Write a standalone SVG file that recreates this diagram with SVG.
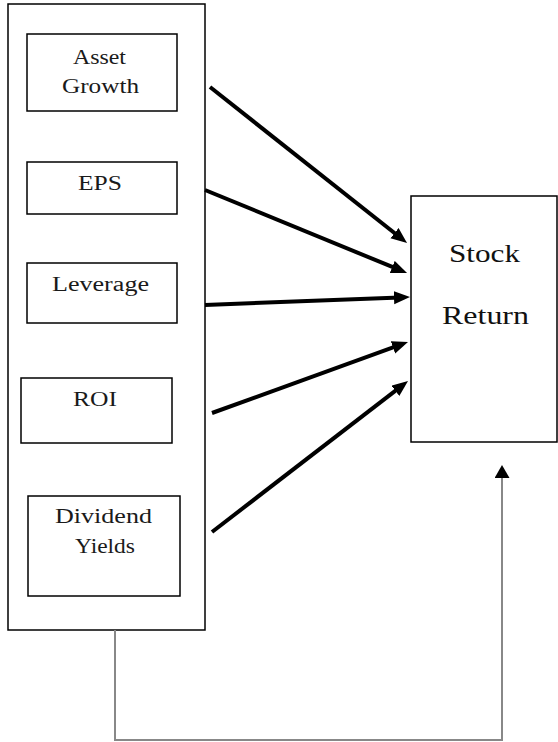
<svg xmlns="http://www.w3.org/2000/svg" width="558" height="742" viewBox="0 0 558 742">
  <style>
    .box { fill: #fff; stroke: #000; stroke-width: 1.5; }
    .lbl { font-family: "Liberation Serif", "Times New Roman", serif; font-size: 20px; fill: #1a1a1a; text-anchor: start; }
    .big { font-family: "Liberation Serif", "Times New Roman", serif; font-size: 25px; fill: #111; }
    .arr { stroke: #000; stroke-width: 4; fill: none; marker-end: url(#head); }
    .fb { stroke: #888; stroke-width: 2; fill: none; marker-end: url(#head2); }
  </style>
  <defs>
    <marker id="head" markerUnits="userSpaceOnUse" markerWidth="17" markerHeight="14" refX="6" refY="6.5" orient="auto">
      <path d="M0,0 L16,6.5 L0,13 z" fill="#000"/>
    </marker>
    <marker id="head2" markerUnits="userSpaceOnUse" markerWidth="14" markerHeight="16" refX="2" refY="7.5" orient="auto">
      <path d="M0,0 L13,7.5 L0,15 z" fill="#000"/>
    </marker>
  </defs>
  <rect width="558" height="742" fill="#fff"/>

  <g id="container">
    <rect class="box" x="8" y="4" width="197" height="626"/>
  </g>
  <g id="asset-growth">
    <rect class="box" x="27" y="34" width="150" height="77"/>
    <text class="lbl" x="73" y="64" textLength="53" lengthAdjust="spacingAndGlyphs">Asset</text>
    <text class="lbl" x="62" y="93" textLength="77" lengthAdjust="spacingAndGlyphs">Growth</text>
  </g>
  <g id="eps">
    <rect class="box" x="27" y="162" width="150" height="52"/>
    <text class="lbl" x="78" y="190" textLength="44" lengthAdjust="spacingAndGlyphs">EPS</text>
  </g>
  <g id="leverage">
    <rect class="box" x="27" y="263" width="150" height="60"/>
    <text class="lbl" x="52" y="291" textLength="97" lengthAdjust="spacingAndGlyphs">Leverage</text>
  </g>
  <g id="roi">
    <rect class="box" x="21" y="378" width="151" height="65"/>
    <text class="lbl" x="73" y="406" textLength="44" lengthAdjust="spacingAndGlyphs">ROI</text>
  </g>
  <g id="dividend-yields">
    <rect class="box" x="28" y="496" width="152" height="100"/>
    <text class="lbl" x="55" y="523" textLength="97" lengthAdjust="spacingAndGlyphs">Dividend</text>
    <text class="lbl" x="75" y="553" textLength="60" lengthAdjust="spacingAndGlyphs">Yields</text>
  </g>
  <g id="stock-return">
    <rect class="box" x="411" y="196" width="146" height="246"/>
    <text class="big" x="449" y="262" textLength="71" lengthAdjust="spacingAndGlyphs">Stock</text>
    <text class="big" x="442" y="324" textLength="87" lengthAdjust="spacingAndGlyphs">Return</text>
  </g>

  <g id="connectors">
    <line class="arr" x1="210" y1="87" x2="399.2" y2="236.8"/>
    <line class="arr" x1="205" y1="190" x2="397.8" y2="269.2"/>
    <line class="arr" x1="205" y1="305" x2="400" y2="297.4"/>
    <line class="arr" x1="212" y1="413" x2="398.6" y2="345.4"/>
    <line class="arr" x1="212" y1="532" x2="400.1" y2="387.1"/>
    <path class="fb" d="M115,630 V740 H502 V476"/>
  </g>
</svg>
